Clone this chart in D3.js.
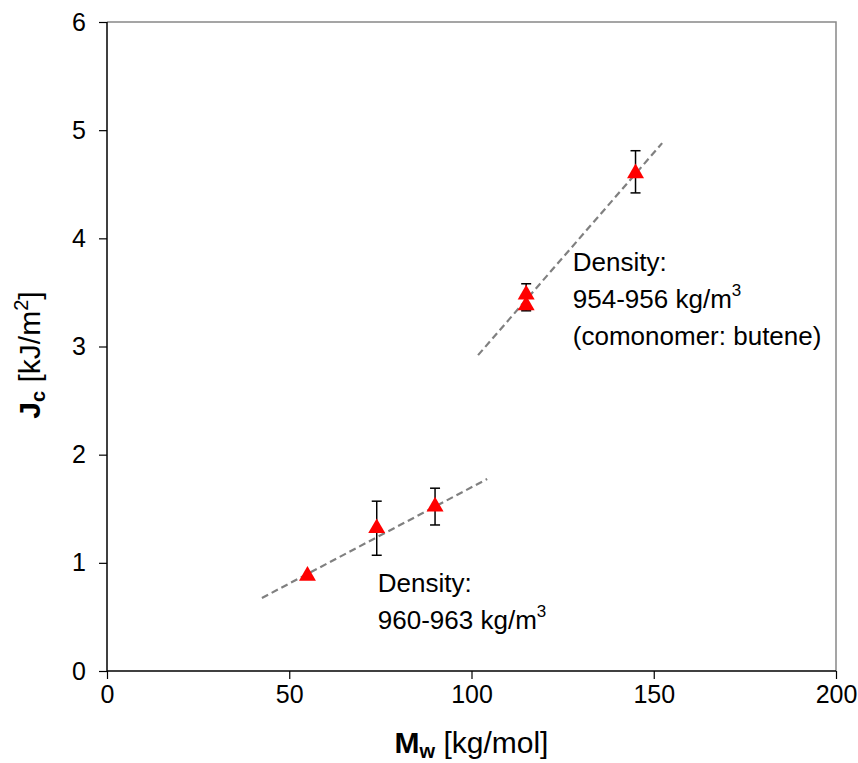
<!DOCTYPE html>
<html>
<head>
<meta charset="utf-8">
<script src="https://cdn.jsdelivr.net/npm/d3@7"></script>
<style>
  body { margin: 0; background: #fff; }
  text { font-family: "Liberation Sans", Arial, sans-serif; }
</style>
</head>
<body>
<svg id="chart" width="858" height="763"></svg>
<script>
// data
var mw = [55, 74, 90, 115, 115, 145];
var jc = [0.88, 1.32, 1.52, 3.48, 3.38, 4.6];
var errLow = [null, 1.07, 1.35, 3.33, null, 4.42];
var errHigh = [null, 1.57, 1.69, 3.58, null, 4.81];

var trendLow = [[42.5, 0.675], [104.3, 1.775]];
var trendHigh = [[101.8, 2.92], [152.3, 4.88]];

var xTicks = [0, 50, 100, 150, 200];
var yTicks = [0, 1, 2, 3, 4, 5, 6];

var svg = d3.select("#chart");
var margin = {left: 107, top: 22, right: 22, bottom: 92};
var width = 858 - margin.left - margin.right,
    height = 763 - margin.top - margin.bottom;

var x = d3.scaleLinear().domain([0, 200]).range([margin.left, margin.left + width]);
var y = d3.scaleLinear().domain([0, 6]).range([margin.top + height, margin.top]);

// frame (top + right in grey)
svg.append("path")
  .attr("d", "M" + x(0) + "," + y(6) + "H" + x(200) + "V" + y(0))
  .attr("fill", "none")
  .attr("stroke", "#888")
  .attr("stroke-width", 1.5);

var xAxis = svg.append("g")
  .attr("transform", "translate(0," + y(0) + ")")
  .call(d3.axisBottom(x).tickValues(xTicks).tickSize(8).tickPadding(6));
var yAxis = svg.append("g")
  .attr("transform", "translate(" + x(0) + ",0)")
  .call(d3.axisLeft(y).tickValues(yTicks).tickFormat(d3.format("d")).tickSize(8).tickPadding(13));

[xAxis, yAxis].forEach(function(a) {
  a.select(".domain").attr("stroke", "#000").attr("stroke-width", 1.5);
  a.selectAll(".tick line").attr("stroke", "#000").attr("stroke-width", 1.2);
  a.selectAll("text").attr("font-size", 25).attr("fill", "#000")
    .style("font-family", "'Liberation Sans', Arial, sans-serif");
});
xAxis.select(".domain").attr("d", "M" + x(0) + ",0H" + x(200));
yAxis.select(".domain").attr("d", "M0," + y(0) + "V" + y(6));

// trend lines
var line = d3.line().x(function(d){ return x(d[0]) }).y(function(d){ return y(d[1]) });
[trendLow, trendHigh].forEach(function(t) {
  svg.append("path")
    .attr("d", line(t))
    .attr("fill", "none")
    .attr("stroke", "#808080")
    .attr("stroke-width", 2.2)
    .attr("stroke-dasharray", "7,4");
});

// error bars
var pts = mw.map(function(m, i) { return {x: m, y: jc[i], lo: errLow[i], hi: errHigh[i]} });
var eb = svg.append("g");
pts.filter(function(d){ return d.lo != null }).forEach(function(d) {
  eb.append("line")
    .attr("x1", x(d.x)).attr("x2", x(d.x))
    .attr("y1", y(d.lo)).attr("y2", y(d.hi))
    .attr("stroke", "#000").attr("stroke-width", 1.5);
  [d.lo, d.hi].forEach(function(v) {
    eb.append("line")
      .attr("x1", x(d.x) - 5).attr("x2", x(d.x) + 5)
      .attr("y1", y(v)).attr("y2", y(v))
      .attr("stroke", "#000").attr("stroke-width", 1.5);
  });
});

// triangle markers
svg.append("g")
  .selectAll("path")
  .data(pts)
  .enter()
  .append("path")
    .attr("d", d3.symbol().type(d3.symbolTriangle).size(125))
    .attr("transform", function(d){ return "translate(" + x(d.x) + "," + y(d.y) + ")" })
    .attr("fill", "#ff0000");

// annotations
function note(px, py, lines) {
  var t = svg.append("text").attr("font-size", 26).attr("fill", "#000");
  lines.forEach(function(l, i) {
    var ts = t.append("tspan").attr("x", x(px)).attr("y", y(py) + i * 37);
    ts.text(l[0]);
    if (l[1]) {
      ts.append("tspan").attr("font-size", 17).attr("dy", -12).text(l[1]);
    }
  });
}
note(127.8, 3.7, [["Density:"], ["954-956 kg/m", "3"], ["(comonomer: butene)"]]);
note(74.3, 0.73, [["Density:"], ["960-963 kg/m", "3"]]);

// axis titles
var xt = svg.append("text")
  .attr("x", x(100)).attr("y", 753)
  .attr("text-anchor", "middle")
  .attr("font-size", 30);
xt.append("tspan").attr("font-weight", "bold").text("M");
xt.append("tspan").attr("font-weight", "bold").attr("font-size", 20).attr("dy", 5).text("w");
xt.append("tspan").attr("dy", -5).text(" [kg/mol]");

var yt = svg.append("text")
  .attr("transform", "translate(40,355) rotate(-90)")
  .attr("text-anchor", "middle")
  .attr("font-size", 30);
yt.append("tspan").attr("font-weight", "bold").text("J");
yt.append("tspan").attr("font-weight", "bold").attr("font-size", 20).attr("dy", 5).text("c");
yt.append("tspan").attr("dy", -5).text(" [kJ/m");
yt.append("tspan").attr("font-size", 20).attr("dy", -12).text("2");
yt.append("tspan").attr("dy", 12).text("]");
</script>
</body>
</html>
